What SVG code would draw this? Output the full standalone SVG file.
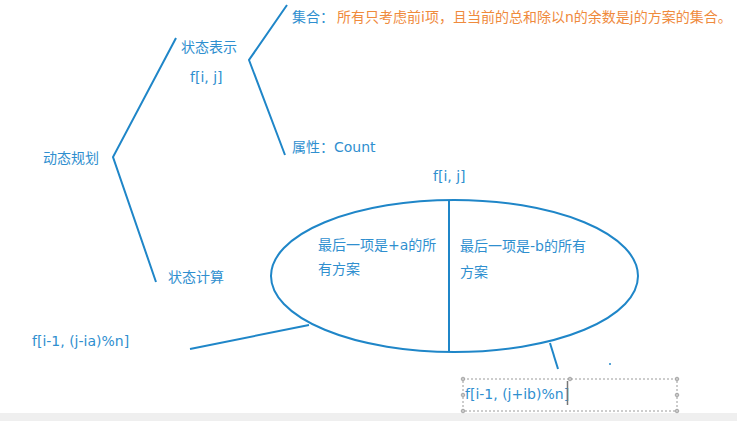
<svg xmlns="http://www.w3.org/2000/svg" width="737" height="421" viewBox="0 0 737 421">
<style>
.t{font-family:"DejaVu Sans","Noto Sans CJK SC",sans-serif;font-size:14px;fill:#2f8fcf}
.o{font-family:"DejaVu Sans","Noto Sans CJK SC",sans-serif;font-size:14px;fill:#ef8a3c}
.l{stroke:#1f86c8;stroke-width:2;fill:none}
.sel{stroke:#9a9a9a;stroke-width:1;stroke-dasharray:2 2;fill:none}
.h{fill:#c8c8c8;stroke:#9a9a9a;stroke-width:0.8}
</style>
<rect width="737" height="421" fill="#ffffff"/>
<rect x="0" y="413" width="737" height="8" fill="#efefef"/>
<g id="connectors">
<polyline class="l" points="176,38 113,157 156,282"/>
<polyline class="l" points="287,5 249,60 285,155"/>
<line class="l" x1="309" y1="325" x2="190" y2="349"/>
<line class="l" x1="550" y1="343" x2="558" y2="369"/>
</g>
<g id="root"><text class="t" x="43" y="163">动态规划</text></g>
<g id="repr"><text class="t" x="181" y="52">状态表示</text><text class="t" x="190" y="82">f[i, j]</text></g>
<g id="set"><text class="t" x="292" y="22">集合：</text><text class="o" x="337" y="22">所有只考虑前i项，且当前的总和除以n的余数是j的方案的集合。</text></g>
<g id="attr"><text class="t" x="292" y="152">属性：Count</text></g>
<g id="calc"><text class="t" x="168" y="282">状态计算</text></g>
<g id="fij"><text class="t" x="433" y="181">f[i, j]</text></g>
<g id="ellipse">
<ellipse class="l" cx="454.5" cy="276" rx="183.5" ry="76"/>
<line class="l" x1="449" y1="200" x2="449" y2="352"/>
<text class="t" x="318" y="250">最后一项是+a的所</text>
<text class="t" x="318" y="274">有方案</text>
<text class="t" x="460" y="251">最后一项是-b的所有</text>
<text class="t" x="460" y="277">方案</text>
</g>
<g id="left"><text class="t" x="32" y="346">f[i-1, (j-ia)%n]</text></g>
<g id="right">
<rect class="sel" x="463" y="379" width="214" height="32"/>
<circle class="h" cx="463" cy="379" r="1.8"/><circle class="h" cx="570" cy="379" r="1.8"/><circle class="h" cx="677" cy="379" r="1.8"/>
<circle class="h" cx="463" cy="395" r="1.8"/><circle class="h" cx="677" cy="395" r="1.8"/>
<circle class="h" cx="463" cy="411" r="1.8"/><circle class="h" cx="677" cy="411" r="1.8"/>
<text class="t" x="465" y="399">f[i-1, (j+ib)%n]</text>
<line x1="567.5" y1="381" x2="567.5" y2="405" stroke="#777" stroke-width="1.5"/>
</g>
<circle cx="610" cy="364" r="1" fill="#1f86c8"/>
</svg>
